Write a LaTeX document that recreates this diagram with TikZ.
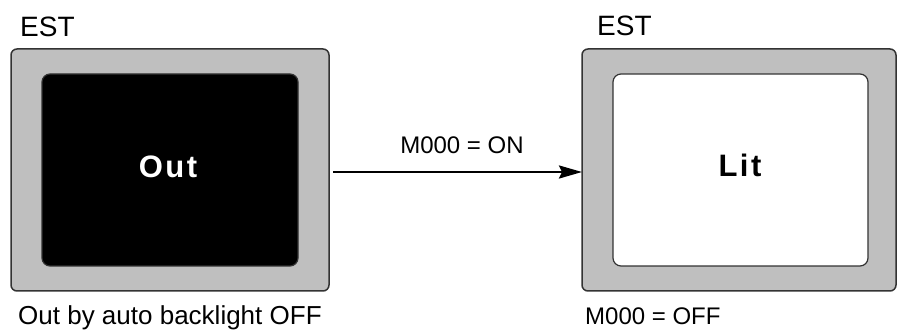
\documentclass[tikz,border=0pt]{standalone}
\usepackage{fontspec}
\setmainfont{Liberation Sans}
\usetikzlibrary{arrows.meta}
\begin{document}
\begin{tikzpicture}[x=1pt,y=-1pt,
  outerbox/.style={draw=black!80,line width=1.5pt,fill=black!25,rounded corners=6pt},
  innerbox/.style={draw=black!80,line width=1.2pt,rounded corners=8pt},
  lbl/.style={inner sep=0pt,anchor=base west,text=black},
  big/.style={font=\fontsize{31}{33}\selectfont\bfseries,inner sep=0pt,anchor=base}]
\useasboundingbox (0,0) rectangle (898,331);
\fill[white] (0,0) rectangle (898,331);
% left panel
\draw[outerbox] (11,49) rectangle (329,291);
\draw[innerbox,fill=black] (42,74) rectangle (298,266);
\node[big,text=white] (out) at (168,178) {O\kern2.5pt u\kern2.5pt t};
% right panel
\draw[outerbox] (582,49) rectangle (896,291);
\draw[innerbox,fill=white] (613,74) rectangle (868,266);
\node[big,text=black] (lit) at (740,177) {L\kern2.5pt i\kern2.5pt t};
\coordinate (rin) at (582,172);
% labels
\node[lbl,font=\fontsize{28}{30}\selectfont] (est1) at (20,37) {EST};
\node[lbl,font=\fontsize{28}{30}\selectfont] (est2) at (597,36) {EST};
\node[lbl,font=\fontsize{26}{30}\selectfont] (cap1) at (18,325) {Out by auto backlight OFF};
\node[lbl,font=\fontsize{24}{30}\selectfont] (cap2) at (585,325) {M000 = OFF};
% arrow
\coordinate (astart) at (333,172);
\draw[line width=2.4pt,-{Stealth[length=23pt,width=13pt,inset=3pt]}] (astart) -- (rin);
\node[inner sep=0pt,anchor=base,font=\fontsize{24}{30}\selectfont] (on) at (462,154) {M000 = ON};
\end{tikzpicture}
\end{document}
